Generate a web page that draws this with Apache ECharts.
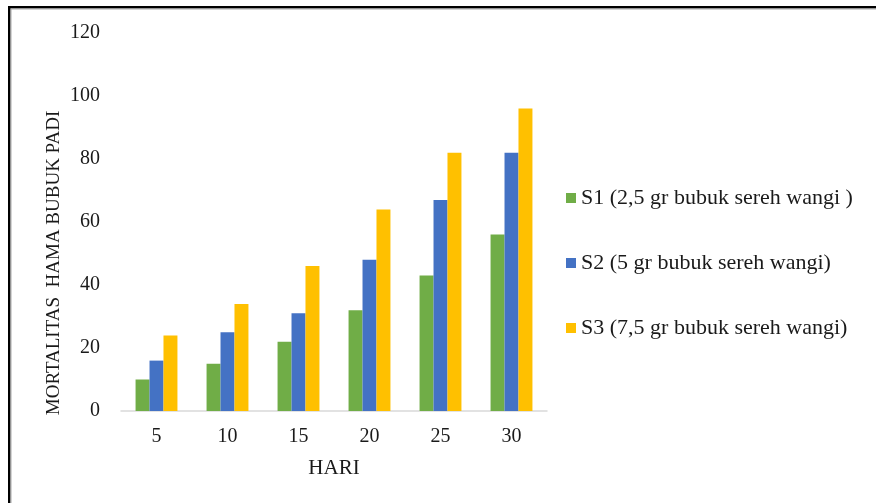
<!DOCTYPE html>
<html>
<head>
<meta charset="utf-8">
<script src="https://cdn.jsdelivr.net/npm/echarts@6/dist/echarts.min.js"></script>
<style>
html,body{margin:0;padding:0;background:#fff;}
#chart{width:876px;height:503px;}
</style>
</head>
<body>
<div id="chart"></div>
<script>
const categories = ['5', '10', '15', '20', '25', '30'];
const s1Values = [10, 15, 22, 32, 43, 56];
const s2Values = [16, 25, 31, 48, 67, 82];
const s3Values = [24, 34, 46, 64, 82, 96];
const seriesNames = ['S1 (2,5 gr bubuk sereh wangi )', 'S2 (5 gr bubuk sereh wangi)', 'S3 (7,5 gr bubuk sereh wangi)'];
const yTitle = 'MORTALITAS  HAMA BUBUK PADI';
const xTitle = 'HARI';

const font = 'Liberation Serif';
const txt = '#1a1a1a';
const chart = echarts.init(document.getElementById('chart'));
const mk = (name, data, color) => ({
  name, type: 'bar', data, barGap: '0%', barCategoryGap: '41%',
  itemStyle: { color }
});
chart.setOption({
  animation: false,
  grid: { left: 121, right: 329, top: 33, bottom: 92 },
  legend: {
    orient: 'vertical', left: 561, top: 182,
    itemWidth: 10, itemHeight: 10, itemGap: 43, icon: 'rect',
    textStyle: { fontFamily: font, fontSize: 22, color: txt, lineHeight: 21 },
    data: seriesNames
  },
  xAxis: {
    type: 'category', data: categories,
    name: xTitle, nameLocation: 'middle', nameGap: 47,
    nameTextStyle: { fontFamily: font, fontSize: 21, color: txt },
    axisLine: { lineStyle: { color: '#d9d9d9', width: 1.5 } },
    axisTick: { show: false },
    axisLabel: { fontFamily: font, fontSize: 20, color: txt, margin: 16 }
  },
  yAxis: {
    type: 'value', min: 0, max: 120, interval: 20,
    axisLine: { show: false }, axisTick: { show: false },
    splitLine: { show: false },
    axisLabel: { fontFamily: font, fontSize: 20, color: txt, margin: 21 }
  },
  series: [
    mk(seriesNames[0], s1Values, '#70AD47'),
    mk(seriesNames[1], s2Values, '#4472C4'),
    mk(seriesNames[2], s3Values, '#FFC000')
  ],
  graphic: [
    { type: 'rect', shape: { x: 8, y: 6, width: 868, height: 2.5 }, style: { fill: '#000' } },
    { type: 'rect', shape: { x: 8, y: 8.5, width: 868, height: 1 }, style: { fill: '#aaa' } },
    { type: 'rect', shape: { x: 8, y: 6, width: 2.5, height: 497 }, style: { fill: '#000' } },
    { type: 'rect', shape: { x: 10.5, y: 8.5, width: 1, height: 495 }, style: { fill: '#aaa' } },
    {
      type: 'text', x: 54, y: 263, rotation: Math.PI / 2,
      style: { text: yTitle, fontFamily: font, fontSize: 19, fill: txt, align: 'center', verticalAlign: 'middle' }
    }
  ]
});
</script>
</body>
</html>
